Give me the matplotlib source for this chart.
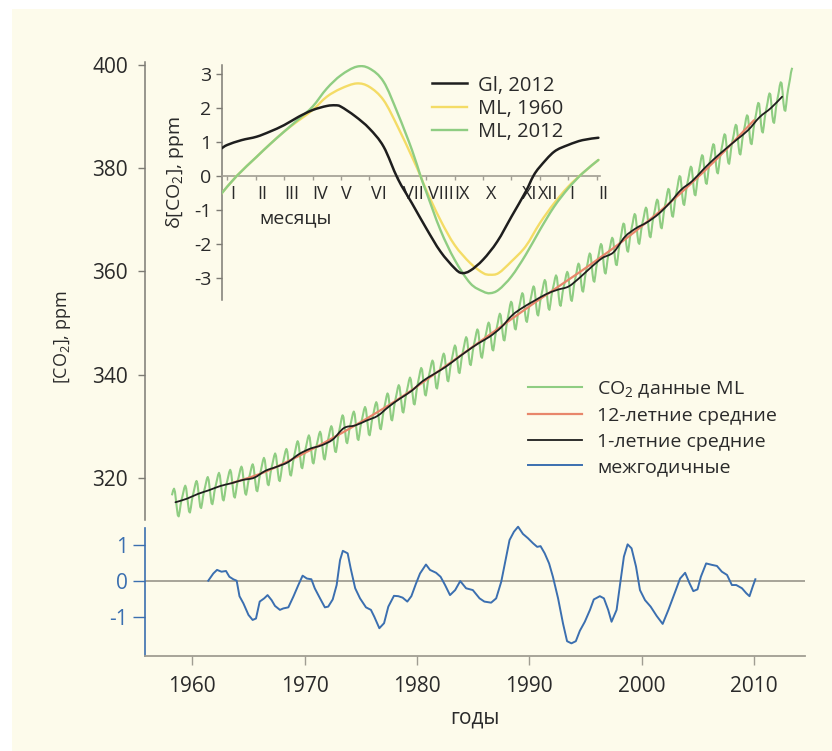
import numpy as np
import matplotlib
matplotlib.use('Agg')
import matplotlib.pyplot as plt
from matplotlib.lines import Line2D
from matplotlib.patches import Rectangle, PathPatch
from matplotlib.path import Path

# ---------------- data ----------------
YEARS = list(range(1958, 2014))
ANNUAL_MEAN = [315.3, 315.97, 316.91, 317.64, 318.45, 318.99, 319.62, 320.04, 321.38, 322.16,
               323.04, 324.62, 325.68, 326.32, 327.45, 329.68, 330.18, 331.11, 332.04, 333.83,
               335.40, 336.84, 338.75, 340.11, 341.45, 343.05, 344.65, 346.12, 347.42, 349.19,
               351.57, 353.12, 354.39, 355.61, 356.45, 357.10, 358.83, 360.82, 362.61, 363.73,
               366.70, 368.38, 369.55, 371.14, 373.28, 375.80, 377.52, 379.80, 381.90, 383.79,
               385.60, 387.43, 389.90, 391.65, 393.85, 396.52]

# seasonal cycle at Mauna Loa, mid-month values (Jan..Dec), from the inset
SEAS_1960 = [0.18, 0.86, 1.64, 2.37, 2.73, 2.12, 0.47, -1.09, -2.55, -2.84, -1.97, -0.72]
SEAS_2012 = [0.18, 0.90, 1.71, 2.71, 3.21, 2.85, 0.95, -1.48, -2.99, -3.38, -2.26, -0.80]
MONTHLY_START = (1958, 2)   # March 1958
MONTHLY_END = (2013, 4)     # May 2013

# 12-year running mean
ORANGE_YEARS = [1963.5, 1966.5, 1970.5, 1974.5, 1978.5, 1982.5, 1986.5, 1990.5, 1994.5,
                1998.5, 2002.5, 2006.5, 2010.0]
ORANGE_VALUES = [319.0, 321.2, 325.4, 330.2, 335.5, 341.6, 347.8, 354.0, 359.9,
                 366.2, 373.3, 381.4, 389.3]

# interannual variability
BLUE_YEARS = [1961.42, 1961.87, 1962.2, 1962.6, 1963.0, 1963.3, 1963.65, 1963.95, 1964.2, 1964.55,
              1965.0, 1965.37, 1965.67, 1966.0, 1966.4, 1966.7, 1967.06, 1967.36, 1967.8, 1968.1,
              1968.55, 1969.0, 1969.44, 1969.82, 1970.2, 1970.6, 1970.9, 1971.37, 1971.8, 1972.1,
              1972.5, 1972.85, 1973.15, 1973.4, 1973.83, 1974.1, 1974.5, 1974.93, 1975.46, 1975.9,
              1976.2, 1976.65, 1977.07, 1977.45, 1977.95, 1978.34, 1978.72, 1979.14, 1979.5, 1979.9,
              1980.27, 1980.8, 1981.16, 1981.7, 1982.1, 1982.5, 1982.94, 1983.4, 1983.85, 1984.37,
              1984.97, 1985.57, 1986.0, 1986.6, 1987.05, 1987.5, 1987.8, 1988.24, 1988.63, 1989.0,
              1989.43, 1989.88, 1990.33, 1990.7, 1991.0, 1991.37, 1991.76, 1992.1, 1992.56, 1993.0,
              1993.36, 1993.75, 1994.14, 1994.5, 1994.94, 1995.4, 1995.74, 1996.28, 1996.64, 1997.02,
              1997.32, 1997.77, 1998.07, 1998.42, 1998.75, 1999.1, 1999.5, 1999.85, 2000.3, 2000.8,
              2001.34, 2001.87, 2002.38, 2002.98, 2003.42, 2003.87, 2004.26, 2004.6, 2004.97, 2005.27,
              2005.74, 2006.25, 2006.7, 2007.14, 2007.6, 2008.03, 2008.42, 2008.93, 2009.32, 2009.6,
              2009.9, 2010.12]
BLUE_VALUES = [0.0, 0.2, 0.30, 0.25, 0.27, 0.11, 0.04, 0.0, -0.43, -0.63,
               -0.95, -1.09, -1.05, -0.58, -0.49, -0.40, -0.54, -0.70, -0.81, -0.77,
               -0.74, -0.44, -0.12, 0.14, 0.06, 0.04, -0.21, -0.49, -0.74, -0.72,
               -0.52, -0.12, 0.57, 0.83, 0.76, 0.34, -0.21, -0.49, -0.74, -0.81,
               -1.0, -1.32, -1.18, -0.72, -0.42, -0.43, -0.47, -0.58, -0.43, -0.09,
               0.20, 0.45, 0.30, 0.22, 0.11, -0.12, -0.40, -0.26, -0.01, -0.21,
               -0.26, -0.49, -0.58, -0.61, -0.49, -0.03, 0.44, 1.13, 1.36, 1.50,
               1.30, 1.18, 1.04, 0.94, 0.96, 0.76, 0.48, 0.11, -0.49, -1.19,
               -1.68, -1.74, -1.68, -1.39, -1.14, -0.81, -0.52, -0.43, -0.49, -0.81,
               -1.14, -0.81, -0.12, 0.67, 1.01, 0.90, 0.39, -0.26, -0.54, -0.72,
               -0.98, -1.20, -0.81, -0.31, 0.06, 0.22, -0.07, -0.29, -0.24, 0.11,
               0.48, 0.44, 0.41, 0.25, 0.16, -0.12, -0.12, -0.21, -0.35, -0.43,
               -0.15, 0.04]

# inset: seasonal cycles (x in months from 1 January)
INSET_X_GL = [-0.2, 0.0, 0.5, 1.03, 1.5, 2.0, 2.5, 3.0, 3.5, 3.8, 4.0, 4.5, 5.0, 5.5, 6.0, 6.5,
              7.0, 7.5, 8.0, 8.25, 8.55, 9.0, 9.5, 10.0, 10.5, 10.77, 11.0, 11.5, 12.0, 12.5, 13.06]
INSET_GL_2012 = [0.81, 0.91, 1.05, 1.15, 1.30, 1.49, 1.73, 1.93, 2.05, 2.07, 2.03, 1.75, 1.39,
                 0.86, -0.08, -0.8, -1.53, -2.21, -2.70, -2.84, -2.77, -2.45, -1.92, -1.19, -0.46,
                 0.0, 0.27, 0.71, 0.91, 1.05, 1.12]
INSET_X_ML = [-0.2, 0.33, 1.03, 1.5, 2.0, 2.5, 3.0, 3.5, 4.0, 4.55, 5.0, 5.5, 6.0, 6.5, 6.8,
              7.0, 7.5, 8.0, 8.55, 9.0, 9.25, 9.55, 10.0, 10.5, 11.0, 11.5, 12.0, 12.5, 13.06]
INSET_ML_1960 = [-0.51, 0.0, 0.56, 0.93, 1.30, 1.62, 1.93, 2.32, 2.56, 2.71, 2.61, 2.22, 1.44,
                 0.56, 0.0, -0.41, -1.29, -2.02, -2.55, -2.84, -2.89, -2.84, -2.5, -2.06, -1.38,
                 -0.80, -0.31, 0.08, 0.47]
INSET_ML_2012 = [-0.51, 0.0, 0.56, 0.93, 1.30, 1.66, 2.03, 2.56, 2.95, 3.20, 3.15, 2.76, 1.83,
                 0.76, 0.0, -0.46, -1.58, -2.45, -3.14, -3.38, -3.43, -3.33, -2.94, -2.31, -1.58,
                 -0.9, -0.36, 0.08, 0.47]
MONTH_LABELS = ['I', 'II', 'III', 'IV', 'V', 'VI', 'VII', 'VIII', 'IX', 'X', 'XI', 'XII', 'I', 'II']

# ---------------- style ----------------
CREAM = '#fdfbeb'
GREEN = '#8fcd82'
ORANGE = '#e8866b'
BLACK = '#1e1e1e'
BLUE = '#3b6fb0'
YELLOW = '#f4dc66'
GRAY = '#7d7b74'
LGRAY = '#a09d92'
TXT = '#2a2a2a'

plt.rcParams['font.family'] = ['Open Sans', 'DejaVu Sans']
plt.rcParams['mathtext.default'] = 'regular'
plt.rcParams['axes.unicode_minus'] = False

W, H = 832, 751
fig = plt.figure(figsize=(W / 100, H / 100), dpi=100, facecolor='white')
fig.patches.append(Rectangle((12 / W, 0), 1 - 12 / W, 1 - 9 / H, transform=fig.transFigure,
                             facecolor=CREAM, edgecolor='none', zorder=-10))


def ax_px(l, t, r, b):
    return fig.add_axes([l / W, 1 - b / H, (r - l) / W, (b - t) / H])


def smooth_line(ax, x, y, **kw):
    """Draw a smooth (Catmull-Rom style Bezier) line through the given points."""
    pts = np.column_stack([np.asarray(x, float), np.asarray(y, float)])
    n = len(pts)
    verts = [pts[0]]
    codes = [Path.MOVETO]
    for i in range(n - 1):
        p0 = pts[max(i - 1, 0)]
        p1 = pts[i]
        p2 = pts[i + 1]
        p3 = pts[min(i + 2, n - 1)]
        verts += [p1 + (p2 - p0) / 6, p2 - (p3 - p1) / 6, p2]
        codes += [Path.CURVE4] * 3
    patch = PathPatch(Path(verts, codes), facecolor='none', capstyle='round',
                      joinstyle='round', **kw)
    ax.add_patch(patch)
    return patch


XLIM = (1955.79, 2014.54)

# ---------------- main axes ----------------
ax = ax_px(145, 62, 805, 520)
ax.set_facecolor('none')
ax.set_xlim(*XLIM)
ax.set_ylim(311.86, 400.58)

yrs = np.array(YEARS, dtype=float) + 0.5
ann = np.array(ANNUAL_MEAN)
s60 = np.array(SEAS_1960) - np.mean(SEAS_1960)
s12 = np.array(SEAS_2012) - np.mean(SEAS_2012)
t_list, v_list = [], []
for y in range(MONTHLY_START[0], MONTHLY_END[0] + 1):
    for m in range(12):
        if (y, m) < MONTHLY_START or (y, m) > MONTHLY_END:
            continue
        t = y + (m + 0.5) / 12
        w = min(max((t - 1960) / 52, 0), 1)
        t_list.append(t)
        v_list.append(np.interp(t, yrs, ann) + (1 - w) * s60[m] + w * s12[m])
ax.plot(t_list, v_list, color=GREEN, lw=1.5, zorder=2)
smooth_line(ax, ORANGE_YEARS, ORANGE_VALUES, edgecolor=ORANGE, lw=1.6, zorder=3)
smooth_line(ax, yrs[:-1], ann[:-1], edgecolor=BLACK, lw=1.3, zorder=4)

for s in ['top', 'right', 'bottom']:
    ax.spines[s].set_visible(False)
ax.spines['left'].set_color(GRAY)
ax.spines['left'].set_linewidth(1.1)
ax.set_xticks([])
ax.set_yticks([320, 340, 360, 380, 400])
ax.tick_params(axis='y', direction='out', length=5.3, width=1.0, color=GRAY, pad=7,
               labelsize=15, labelcolor=TXT)

fig.text(63 / W, 1 - 337 / H, '[CO$_2$], ppm', rotation=90, ha='center', va='center',
         fontsize=13, color=TXT)

handles = [Line2D([], [], color=GREEN, lw=1.5), Line2D([], [], color=ORANGE, lw=1.6),
           Line2D([], [], color=BLACK, lw=1.3), Line2D([], [], color=BLUE, lw=1.4)]
labels = ['CO$_2$ данные ML', '12-летние средние', '1-летние средние', 'межгодичные']
leg = ax.legend(handles, labels, loc='upper left', bbox_to_anchor=(528 / W, 1 - 379 / H),
                bbox_transform=fig.transFigure, frameon=False, fontsize=14, handlelength=2.78,
                handletextpad=0.77, labelspacing=0.39, borderpad=0, borderaxespad=0)
for txt in leg.get_texts():
    txt.set_color(TXT)

# ---------------- bottom axes ----------------
axb = ax_px(145, 528, 805, 655.7)
axb.set_facecolor('none')
axb.set_xlim(*XLIM)
axb.set_ylim(-2.083, 1.464)
axb.axhline(0, color=LGRAY, lw=1.3, zorder=1)
axb.plot(BLUE_YEARS, BLUE_VALUES, color=BLUE, lw=1.4, zorder=3, clip_on=False)
for s in ['top', 'right']:
    axb.spines[s].set_visible(False)
axb.spines['left'].set_color(BLUE)
axb.spines['left'].set_linewidth(1.2)
axb.spines['bottom'].set_color(LGRAY)
axb.spines['bottom'].set_linewidth(1.3)
axb.set_yticks([-1, 0, 1])
axb.tick_params(axis='y', direction='out', length=8.5, width=1.0, color=BLUE, pad=4,
                labelsize=15, labelcolor=BLUE)
axb.set_xticks([1960, 1970, 1980, 1990, 2000, 2010])
axb.tick_params(axis='x', direction='out', length=6.5, width=1.0, color=LGRAY, pad=8,
                labelsize=15, labelcolor=TXT)
fig.text(475 / W, 1 - 718 / H, 'годы', ha='center', va='center', fontsize=15, color=TXT)

# ---------------- inset ----------------
axi = ax_px(221.7, 65, 600, 300)
axi.set_facecolor('none')
axi.set_xlim(-0.197, 13.116)
axi.set_ylim(-3.63, 3.25)
smooth_line(axi, INSET_X_ML, INSET_ML_1960, edgecolor=YELLOW, lw=1.7, zorder=3)
smooth_line(axi, INSET_X_ML, INSET_ML_2012, edgecolor=GREEN, lw=1.7, zorder=4)
smooth_line(axi, INSET_X_GL, INSET_GL_2012, edgecolor=BLACK, lw=1.8, zorder=5)
for s in ['top', 'right']:
    axi.spines[s].set_visible(False)
axi.spines['bottom'].set_position(('data', 0))
axi.spines['bottom'].set_color(LGRAY)
axi.spines['bottom'].set_linewidth(1.2)
axi.spines['left'].set_color(GRAY)
axi.spines['left'].set_linewidth(1.1)
axi.set_yticks([-3, -2, -1, 0, 1, 2, 3])
axi.tick_params(axis='y', direction='out', length=4.5, width=1.0, color=GRAY, pad=3,
                labelsize=14, labelcolor=TXT)
axi.set_xticks(range(14))
axi.set_xticklabels([])
axi.tick_params(axis='x', direction='out', length=3, width=1.0, color=LGRAY)
LABEL_POS = [0.18, 1.23, 2.27, 3.26, 4.20, 5.34, 6.55, 7.51, 8.27, 9.27, 10.65, 11.30, 12.12, 13.22]
for p, lab in zip(LABEL_POS, MONTH_LABELS):
    axi.annotate(lab, xy=(p, 0), xytext=(0, -6.5), textcoords='offset points', ha='center',
                 va='top', fontsize=13, color=TXT, annotation_clip=False)
fig.text(296 / W, 1 - 218 / H, 'месяцы', ha='center', va='center', fontsize=14, color=TXT)
fig.text(175 / W, 1 - 173 / H, 'δ[CO$_2$], ppm', rotation=90, ha='center', va='center',
         fontsize=14, color=TXT)
ihandles = [Line2D([], [], color=BLACK, lw=1.8), Line2D([], [], color=YELLOW, lw=1.7),
            Line2D([], [], color=GREEN, lw=1.7)]
legi = axi.legend(ihandles, ['Gl, 2012', 'ML, 1960', 'ML, 2012'], loc='upper left',
                  bbox_to_anchor=(431.7 / W, 1 - 75.5 / H), bbox_transform=fig.transFigure,
                  frameon=False, fontsize=14.5, handlelength=1.74, handletextpad=0.58,
                  labelspacing=0.17, borderpad=0, borderaxespad=0)
for txt in legi.get_texts():
    txt.set_color(TXT)

fig.savefig('out.png', dpi=100, facecolor=fig.get_facecolor())
